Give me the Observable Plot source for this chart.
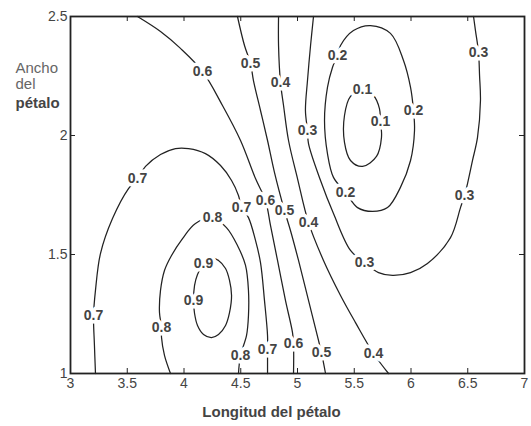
<!DOCTYPE html>
<html>
<head>
<meta charset="utf-8">
<script src="https://cdn.jsdelivr.net/npm/d3@7"></script>
<script src="https://cdn.jsdelivr.net/npm/@observablehq/plot@0.6"></script>
<style>
  html, body { margin: 0; padding: 0; background: #ffffff; }
  #chart { width: 531px; height: 426px; }
</style>
</head>
<body>
<div id="chart"></div>
<script>
// Axis domains and ticks
const xDomain = [3, 7];
const yDomain = [1, 2.5];
const xTicks = [3, 3.5, 4, 4.5, 5, 5.5, 6, 6.5, 7];
const yTicks = [1, 1.5, 2, 2.5];

// Contour lines (x = longitud, y = ancho)
// level 0.1 (closed loop)
const c01x = [5.573, 5.670, 5.722, 5.731, 5.740, 5.696, 5.573, 5.467, 5.414, 5.414, 5.467];
const c01y = [2.193, 2.168, 2.113, 2.059, 1.992, 1.912, 1.870, 1.895, 1.971, 2.084, 2.164];
// level 0.2 (closed loop)
const c02x = [5.643, 5.819, 5.934, 5.996, 6.022, 6.031, 5.996, 5.907, 5.793, 5.661, 5.529, 5.423, 5.317, 5.264, 5.238, 5.264, 5.308, 5.352, 5.379, 5.493];
const c02y = [2.462, 2.429, 2.315, 2.202, 2.105, 2.021, 1.895, 1.782, 1.697, 1.681, 1.697, 1.761, 1.824, 1.924, 2.063, 2.202, 2.286, 2.336, 2.378, 2.441];
// level 0.3 (open, U shape)
const c03x = [5.141, 5.115, 5.088, 5.070, 5.088, 5.097, 5.203, 5.317, 5.467, 5.590, 5.714, 5.837, 5.996, 6.145, 6.348, 6.436, 6.471, 6.498, 6.542, 6.586, 6.612, 6.604, 6.595, 6.568, 6.551];
const c03y = [2.500, 2.378, 2.231, 2.105, 2.021, 1.966, 1.811, 1.672, 1.517, 1.466, 1.424, 1.412, 1.424, 1.462, 1.571, 1.697, 1.748, 1.798, 1.895, 1.992, 2.147, 2.252, 2.349, 2.441, 2.500];
// level 0.4
const c04x = [4.833, 4.833, 4.850, 4.877, 4.921, 5.000, 5.097, 5.229, 5.379, 5.511, 5.670, 5.802];
const c04y = [2.500, 2.378, 2.223, 2.126, 1.979, 1.819, 1.634, 1.475, 1.328, 1.214, 1.084, 1.000];
// level 0.5
const c05x = [4.471, 4.533, 4.586, 4.612, 4.674, 4.736, 4.797, 4.885, 4.938, 5.009, 5.097, 5.185, 5.211, 5.247];
const c05y = [2.500, 2.378, 2.303, 2.231, 2.105, 1.979, 1.845, 1.685, 1.601, 1.475, 1.307, 1.139, 1.088, 1.000];
// level 0.6
const c06x = [3.590, 3.793, 3.969, 4.163, 4.339, 4.498, 4.630, 4.718, 4.762, 4.824, 4.894, 4.956, 4.965, 4.965];
const c06y = [2.500, 2.437, 2.366, 2.269, 2.126, 1.979, 1.819, 1.727, 1.622, 1.475, 1.307, 1.172, 1.126, 1.000];
// level 0.7 (arch)
const c07x = [3.220, 3.211, 3.203, 3.220, 3.264, 3.370, 3.511, 3.590, 3.661, 3.793, 3.925, 4.040, 4.189, 4.322, 4.419, 4.480, 4.507, 4.568, 4.630, 4.674, 4.709, 4.736, 4.736, 4.736];
const c07y = [1.000, 1.118, 1.244, 1.349, 1.504, 1.651, 1.777, 1.819, 1.870, 1.920, 1.945, 1.945, 1.924, 1.874, 1.811, 1.748, 1.697, 1.655, 1.559, 1.466, 1.307, 1.160, 1.101, 1.000];
// level 0.8 (arch)
const c08x = [3.881, 3.828, 3.802, 3.802, 3.784, 3.793, 3.828, 3.890, 3.987, 4.101, 4.251, 4.374, 4.471, 4.542, 4.568, 4.568, 4.551, 4.498, 4.480];
const c08y = [1.000, 1.076, 1.151, 1.193, 1.256, 1.349, 1.433, 1.496, 1.567, 1.630, 1.655, 1.613, 1.538, 1.454, 1.349, 1.244, 1.160, 1.076, 1.000];
// level 0.9 (closed loop)
const c09x = [4.233, 4.304, 4.366, 4.401, 4.419, 4.401, 4.366, 4.304, 4.242, 4.172, 4.119, 4.093, 4.084, 4.093, 4.119, 4.172];
const c09y = [1.487, 1.475, 1.441, 1.391, 1.328, 1.256, 1.202, 1.164, 1.151, 1.164, 1.202, 1.252, 1.307, 1.370, 1.416, 1.462];

// Inline contour labels
const labelText = ["0.6", "0.5", "0.4", "0.3", "0.2", "0.1", "0.1", "0.2", "0.3", "0.7", "0.8", "0.7", "0.6", "0.5", "0.4", "0.2", "0.3", "0.3", "0.9", "0.9", "0.7", "0.8", "0.8", "0.7", "0.6", "0.5", "0.4"];
const labelX = [4.163, 4.586, 4.850, 5.088, 5.352, 5.573, 5.731, 6.022, 6.595, 3.590, 4.251, 4.507, 4.718, 4.885, 5.097, 5.423, 6.471, 5.590, 4.172, 4.084, 3.203, 3.802, 4.498, 4.736, 4.965, 5.211, 5.670];
const labelY = [2.269, 2.303, 2.223, 2.021, 2.336, 2.193, 2.059, 2.105, 2.349, 1.819, 1.655, 1.697, 1.727, 1.685, 1.634, 1.761, 1.748, 1.466, 1.462, 1.307, 1.244, 1.193, 1.076, 1.101, 1.126, 1.088, 1.084];

// Build tables for Plot
function pathRows(id, xs, ys) { return xs.map((x, i) => ({id, x, y: ys[i]})); }
const openPaths = [].concat(
  pathRows("0.3", c03x, c03y), pathRows("0.4", c04x, c04y), pathRows("0.5", c05x, c05y),
  pathRows("0.6", c06x, c06y), pathRows("0.7", c07x, c07y), pathRows("0.8", c08x, c08y)
);
const closedPaths = [].concat(
  pathRows("0.1", c01x, c01y), pathRows("0.2", c02x, c02y), pathRows("0.9", c09x, c09y)
);
const labels = labelText.map((t, i) => ({t, x: labelX[i], y: labelY[i]}));

const lineColor = "#222222";
const textColor = "#444444";
const tickLen = 5;

const chart = Plot.plot({
  width: 531,
  height: 426,
  marginTop: 16,
  marginRight: 7,
  marginBottom: 53,
  marginLeft: 70,
  x: {domain: xDomain},
  y: {domain: yDomain},
  style: {fontFamily: "'Liberation Sans', Arial, sans-serif", background: "#ffffff"},
  marks: [
    Plot.line(openPaths, {x: "x", y: "y", z: "id", curve: "catmull-rom", stroke: lineColor, strokeWidth: 1.25}),
    Plot.line(closedPaths, {x: "x", y: "y", z: "id", curve: "catmull-rom-closed", stroke: lineColor, strokeWidth: 1.25}),
    Plot.text(labels, {x: "x", y: "y", text: "t", fontSize: 14, fontWeight: "bold", fill: textColor,
      stroke: "white", strokeWidth: 7, paintOrder: "stroke"}),
    // inward ticks on all four sides
    Plot.ruleX(xTicks, {x: d => d, y1: yDomain[0], y2: yDomain[0], insetBottom: tickLen, stroke: lineColor}),
    Plot.ruleX(xTicks, {x: d => d, y1: yDomain[1], y2: yDomain[1], insetTop: tickLen, stroke: lineColor}),
    Plot.ruleY(yTicks, {y: d => d, x1: xDomain[0], x2: xDomain[0], insetRight: -tickLen, stroke: lineColor}),
    Plot.ruleY(yTicks, {y: d => d, x1: xDomain[1], x2: xDomain[1], insetLeft: -tickLen, stroke: lineColor}),
    // tick labels
    Plot.axisX(xTicks, {anchor: "bottom", tickSize: 0, tickPadding: 5, tickFormat: d => String(d), label: null, fontSize: 14, color: textColor}),
    Plot.axisY(yTicks, {anchor: "left", tickSize: 0, tickPadding: 3, tickFormat: d => String(d), label: null, fontSize: 14, color: textColor}),
    Plot.frame({stroke: lineColor, strokeWidth: 1.8}),
    // axis titles
    Plot.text(["Longitud del pétalo"], {text: d => d, frameAnchor: "bottom", dx: -26, dy: 43, fontSize: 15, fontWeight: "bold", fill: textColor}),
    Plot.text(["Ancho"], {text: d => d, frameAnchor: "top-left", dx: -55, dy: 46, textAnchor: "start", fontSize: 15, fill: "#666666"}),
    Plot.text(["del"], {text: d => d, frameAnchor: "top-left", dx: -55, dy: 62, textAnchor: "start", fontSize: 15, fill: "#666666"}),
    Plot.text(["pétalo"], {text: d => d, frameAnchor: "top-left", dx: -55, dy: 81, textAnchor: "start", fontSize: 15, fontWeight: "bold", fill: textColor})
  ]
});
document.getElementById("chart").appendChild(chart);
</script>
</body>
</html>
